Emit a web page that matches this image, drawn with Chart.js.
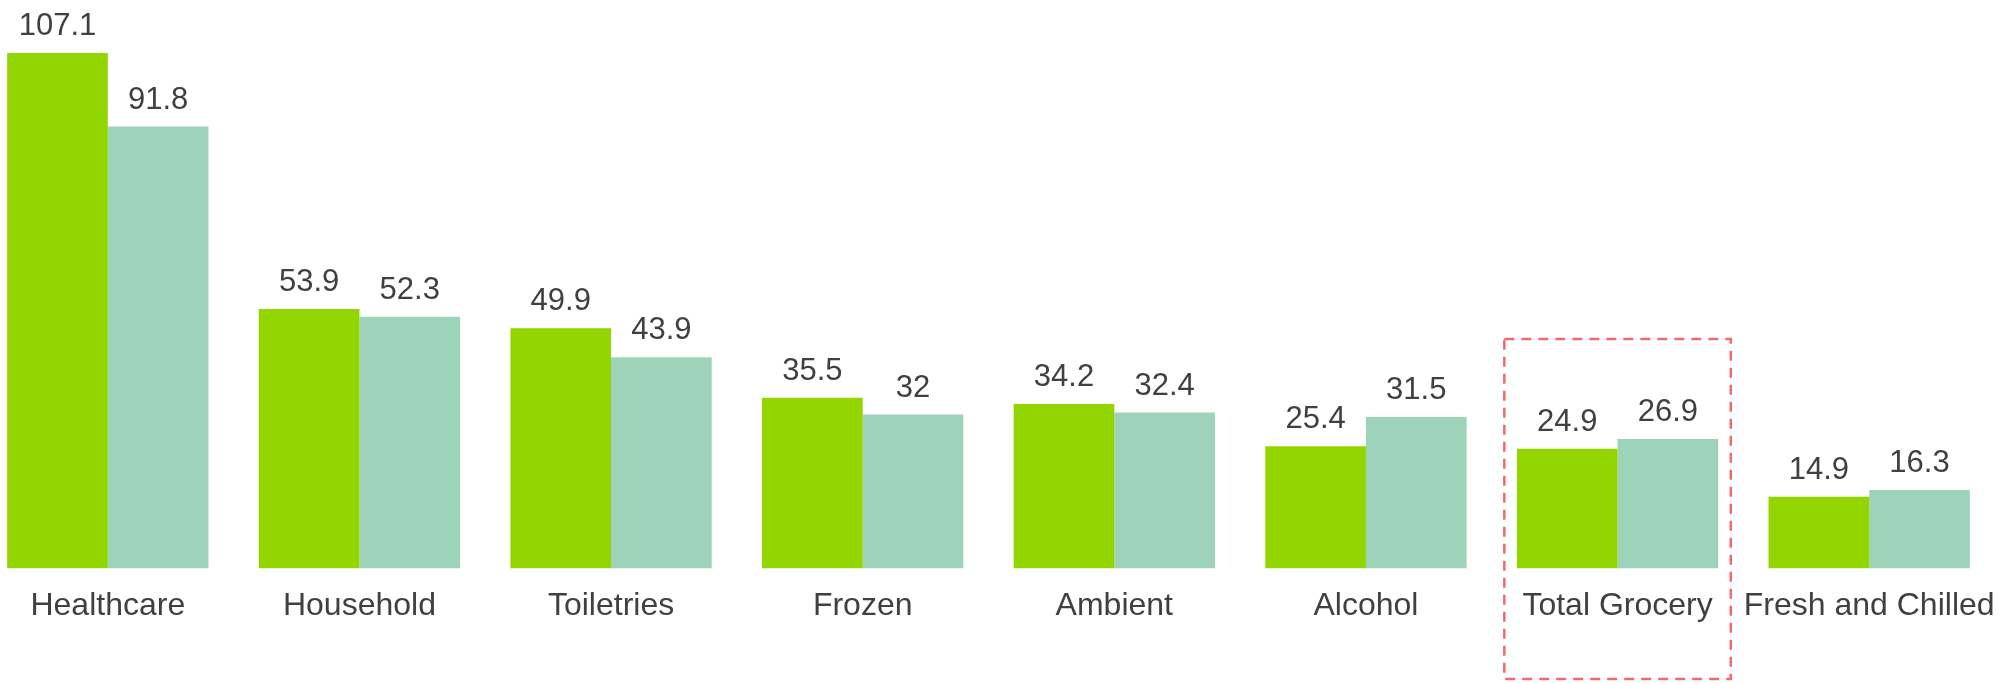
<!DOCTYPE html>
<html>
<head>
<meta charset="utf-8">
<script src="https://cdn.jsdelivr.net/npm/chart.js@4/dist/chart.umd.min.js"></script>
<style>
  html, body { margin: 0; padding: 0; background: #fff; overflow: hidden; }
  #wrap { position: absolute; left: -18px; top: 0; width: 2013px; height: 683px; }
</style>
</head>
<body>
<div id="wrap"><canvas id="chart"></canvas></div>
<script>
const categories = ['Healthcare', 'Household', 'Toiletries', 'Frozen', 'Ambient', 'Alcohol', 'Total Grocery', 'Fresh and Chilled'];
const seriesA = [107.1, 53.9, 49.9, 35.5, 34.2, 25.4, 24.9, 14.9];
const seriesB = [91.8, 52.3, 43.9, 32, 32.4, 31.5, 26.9, 16.3];
const highlighted = 'Total Grocery';

const textColor = '#404040';
const fontFamily = '"Liberation Sans", Arial, sans-serif';

// value labels above each bar
const barLabels = {
    id: 'barLabels',
    afterDatasetsDraw(chart) {
        const ctx = chart.ctx;
        ctx.save();
        ctx.fillStyle = textColor;
        ctx.font = '31px ' + fontFamily;
        ctx.textAlign = 'center';
        ctx.textBaseline = 'alphabetic';
        chart.data.datasets.forEach((ds, i) => {
            chart.getDatasetMeta(i).data.forEach((bar, j) => {
                ctx.fillText(String(ds.data[j]), bar.x, bar.y - 18);
            });
        });
        ctx.restore();
    }
};

// dashed frame around the highlighted category
const highlightBox = {
    id: 'highlightBox',
    afterDraw(chart) {
        const idx = categories.indexOf(highlighted);
        if (idx < 0) return;
        const x = chart.scales.x;
        const y = chart.scales.y;
        const cx = x.getPixelForValue(idx);
        const half = (x.getPixelForValue(1) - x.getPixelForValue(0)) * 0.45;
        const top = y.getPixelForValue(Math.max(seriesA[idx], seriesB[idx])) - 100;
        const ctx = chart.ctx;
        ctx.save();
        ctx.strokeStyle = '#ee6b6b';
        ctx.lineWidth = 2.5;
        ctx.setLineDash([10, 7]);
        ctx.strokeRect(cx - half, top, half * 2, chart.height - 4 - top);
        ctx.restore();
    }
};

new Chart(document.getElementById('chart'), {
    type: 'bar',
    data: {
        labels: categories,
        datasets: [
            { data: seriesA, backgroundColor: '#93d500', categoryPercentage: 0.8, barPercentage: 1.0 },
            { data: seriesB, backgroundColor: '#9dd4b9', categoryPercentage: 0.8, barPercentage: 1.0 }
        ]
    },
    options: {
        responsive: true,
        maintainAspectRatio: false,
        animation: false,
        layout: { padding: { top: 39, bottom: 40, left: 0, right: 0 } },
        plugins: {
            legend: { display: false },
            tooltip: { enabled: false }
        },
        scales: {
            x: {
                grid: { display: false, drawTicks: false },
                border: { display: false },
                ticks: {
                    color: textColor,
                    font: { family: fontFamily, size: 32 },
                    padding: 18,
                    maxRotation: 0,
                    autoSkip: false
                },
                // keep the wide end labels from shrinking the plot
                afterFit(scale) {
                    scale.paddingLeft = 0;
                    scale.paddingRight = 0;
                }
            },
            y: {
                display: false,
                min: 0,
                max: 110
            }
        }
    },
    plugins: [barLabels, highlightBox]
});
</script>
</body>
</html>
